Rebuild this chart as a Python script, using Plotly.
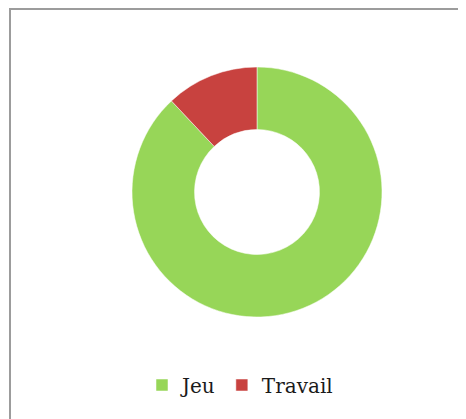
import plotly.graph_objects as go

labels = ["Jeu", "Travail"]
values = [88, 12]
colors = ["#97D658", "#C8423F"]

# page body has an 8px margin; work in figure pixels (window - 8)
W, H = 458, 411
cx, cy, R = 249, 184, 125

fig = go.Figure(go.Pie(
    labels=labels,
    values=values,
    hole=0.5,
    sort=False,
    direction="clockwise",
    rotation=0,
    marker=dict(colors=colors, line=dict(color="rgba(255,255,255,0.5)", width=1)),
    textinfo="none",
    hoverinfo="label+percent",
    domain=dict(x=[(cx - R) / W, (cx + R) / W], y=[(H - cy - R) / H, (H - cy + R) / H]),
))

fig.update_layout(
    width=W,
    height=H,
    margin=dict(l=0, r=0, t=0, b=0),
    paper_bgcolor="white",
    plot_bgcolor="white",
    showlegend=True,
    legend=dict(
        orientation="h",
        x=134 / W,
        xanchor="left",
        y=(H - 377) / H,
        yanchor="middle",
        font=dict(family="DejaVu Serif", size=20, color="#1a1a1a"),
        itemwidth=30,
        bgcolor="rgba(0,0,0,0)",
    ),
    shapes=[dict(
        type="rect", xref="paper", yref="paper",
        x0=2 / W, x1=1.05, y0=-0.05, y1=(H - 1) / H,
        line=dict(color="#9c9c9c", width=2),
        fillcolor="rgba(0,0,0,0)",
        layer="below",
    )],
)

fig.write_html("out.html")
